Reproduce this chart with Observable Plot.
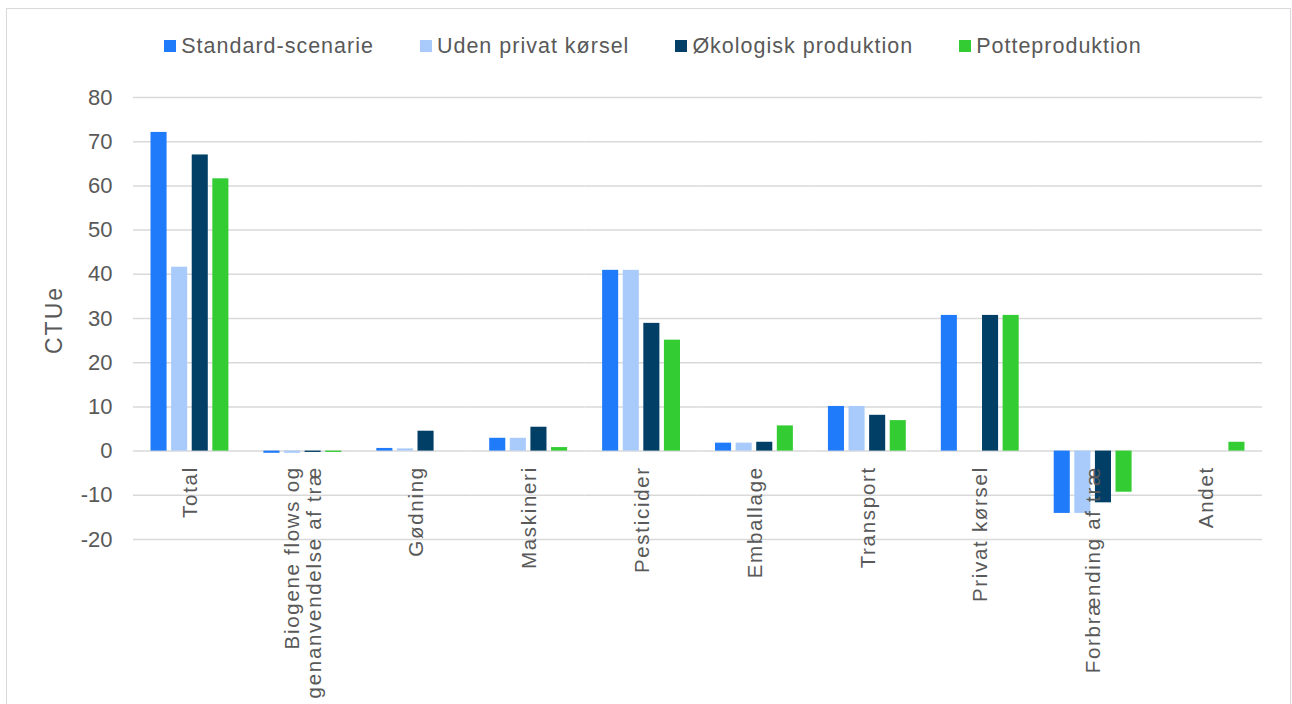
<!DOCTYPE html>
<html>
<head>
<meta charset="utf-8">
<script src="https://cdn.jsdelivr.net/npm/d3@7"></script>
<script src="https://cdn.jsdelivr.net/npm/@observablehq/plot@0.6"></script>
<style>
  body { margin: 0; width: 1292px; height: 704px; position: relative; overflow: hidden; background: #fff;
         font-family: "Liberation Sans", Arial, sans-serif; color: #595959; }
  #frame { position: absolute; left: 6px; top: 8px; width: 1285px; height: 720px; border: 1.5px solid #d9d9d9; box-sizing: border-box; }
  #legend { position: absolute; top: 32px; left: 0; width: 1292px; height: 28px; display: flex; justify-content: center;
            align-items: center; padding-left: 14px; box-sizing: border-box; font-size: 21.5px; letter-spacing: 1px; }
  .item { display: flex; align-items: center; margin: 0 23px; white-space: nowrap; }
  .sw { width: 12px; height: 12px; margin-right: 5px; }
  #chart { position: absolute; left: 0; top: 60px; }
  #ylabel { position: absolute; left: 54px; top: 320px; transform: translate(-50%, -50%) rotate(-90deg);
            font-size: 23px; letter-spacing: 2px; white-space: nowrap; }
</style>
</head>
<body>
<div id="frame"></div>
<div id="legend"></div>
<div id="chart"></div>
<div id="ylabel">CTUe</div>
<script>
const categories = ["Total", "Biogene flows og\ngenanvendelse af træ", "Gødning", "Maskineri", "Pesticider",
  "Emballage", "Transport", "Privat kørsel", "Forbrænding af træ", "Andet"];
const seriesNames = ["Standard-scenarie", "Uden privat kørsel", "Økologisk produktion", "Potteproduktion"];
const standardValues = [72.1, -0.5, 0.6, 2.9, 40.9, 1.8, 10.1, 30.7, -14.1, 0];
const udenValues     = [41.6, -0.5, 0.5, 2.9, 40.9, 1.8, 10.1, 0, -14.1, 0];
const okoValues      = [67.0, -0.3, 4.5, 5.4, 28.9, 2.0, 8.1, 30.7, -11.7, 0];
const potteValues    = [61.6, -0.3, 0, 0.8, 25.1, 5.7, 6.9, 30.7, -9.3, 2.0];
const yTicks = [-20, -10, 0, 10, 20, 30, 40, 50, 60, 70, 80];
const colors = ["#1f7bfa", "#a9cbfc", "#013f66", "#33cc33"];

const allValues = [standardValues, udenValues, okoValues, potteValues];
const rows = categories.flatMap((c, i) => seriesNames.map((s, j) => ({category: c, series: s, value: allValues[j][i]})));

// legend
const legend = document.getElementById("legend");
seriesNames.forEach((s, j) => {
  const it = document.createElement("div");
  it.className = "item";
  const sw = document.createElement("span");
  sw.className = "sw";
  sw.style.background = colors[j];
  const tx = document.createElement("span");
  tx.textContent = s;
  it.appendChild(sw); it.appendChild(tx);
  legend.appendChild(it);
});

const chart = Plot.plot({
  width: 1292,
  height: 644,
  marginTop: 37,
  marginBottom: 165,
  marginLeft: 133,
  marginRight: 30,
  style: {fontFamily: "'Liberation Sans', Arial, sans-serif", fontSize: "22px", color: "#595959", background: "transparent"},
  fx: {domain: categories, padding: 0, round: false, axis: null},
  x: {domain: seriesNames, paddingInner: 0.22, paddingOuter: 0.85, round: false, axis: null},
  y: {domain: [-20, 80], ticks: yTicks, label: null, tickSize: 0, tickPadding: 21, tickFormat: d => String(d)},
  color: {domain: seriesNames, range: colors},
  marks: [
    Plot.ruleY(yTicks, {stroke: "#d9d9d9", strokeWidth: 1.5}),
    Plot.barY(rows, {fx: "category", x: "series", y: "value", fill: "series"}),
    Plot.text(categories, {fx: d => d, y: () => 0, text: d => d, rotate: -90, textAnchor: "end",
      lineAnchor: "middle", lineHeight: 1.1, dy: 15, fontSize: 20.5, fill: "#595959"})
  ]
});
document.getElementById("chart").appendChild(chart);
d3.select(chart).selectAll('g[aria-label="text"] text').attr("letter-spacing", "1.7px");
d3.select(chart).selectAll('g[aria-label="y-axis tick label"] text, g[aria-label="y-axis"] text').attr("fill", "#595959");
</script>
</body>
</html>
